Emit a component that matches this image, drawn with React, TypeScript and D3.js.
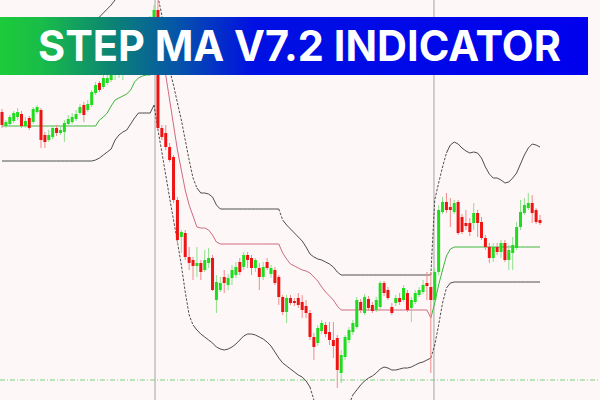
import React from "react";
import * as d3 from "d3";

const W = 600;
const H = 400;

// OHLC candles, one per bar
const opens = [
  288, 274, 276, 279, 283, 286, 274, 282, 278, 288,
  290, 265, 260, 263, 272, 267, 268, 276, 278, 281,
  287, 295, 290, 295, 307, 317, 313, 317, 320, 325,
  328, 330, 336, 338, 348, 355, 360, 360, 370, 383,
  390, 272, 267, 253, 243, 200, 163, 167, 143, 140,
  134, 137, 130, 137, 142, 100, 110, 123, 115, 122,
  125, 138, 133, 145, 142, 132, 132, 123, 138, 126,
  130, 123, 103, 88, 102, 99, 102, 98, 94, 87,
  63, 57, 69, 75, 68, 60, 62, 27, 43, 60,
  68, 73, 98, 87, 101, 95, 90, 93, 117, 110,
  93, 97, 102, 100, 107, 92, 98, 105, 108, 117,
  113, 100, 128, 188, 198, 193, 188, 198, 183, 177,
  177, 177, 187, 178, 162, 153, 142, 153, 148, 157,
  140, 147, 152, 173, 187, 192, 197, 190, 180,
];
const highs = [
  291, 280, 285, 289, 292, 289, 283, 284, 293, 295,
  292, 268, 270, 275, 275, 273, 280, 285, 287, 290,
  296, 298, 300, 310, 318, 319, 325, 326, 330, 334,
  340, 342, 345, 355, 360, 367, 370, 376, 384, 395,
  400, 275, 275, 257, 245, 203, 170, 170, 153, 143,
  153, 140, 150, 152, 145, 125, 123, 130, 126, 135,
  138, 142, 148, 148, 145, 142, 137, 138, 142, 135,
  133, 125, 105, 105, 105, 102, 107, 105, 100, 90,
  67, 75, 80, 78, 78, 78, 65, 50, 65, 73,
  80, 103, 101, 106, 104, 98, 103, 119, 119, 113,
  97, 105, 107, 115, 110, 103, 110, 113, 120, 128,
  128, 132, 195, 203, 207, 202, 200, 200, 186, 190,
  182, 197, 190, 183, 165, 157, 157, 157, 160, 160,
  155, 163, 178, 200, 202, 207, 205, 192, 185,
];
const lows = [
  272, 272, 274, 277, 280, 272, 272, 270, 276, 286,
  252, 252, 258, 261, 264, 265, 258, 274, 276, 279,
  285, 278, 288, 293, 305, 308, 311, 315, 318, 320,
  322, 320, 328, 334, 344, 350, 354, 356, 368, 382,
  270, 260, 250, 238, 197, 155, 147, 140, 130, 120,
  123, 120, 128, 132, 109, 87, 108, 107, 110, 115,
  122, 125, 130, 132, 125, 128, 110, 120, 130, 122,
  115, 95, 85, 77, 95, 94, 92, 82, 82, 60,
  40, 54, 66, 63, 55, 42, 12, 17, 40, 57,
  65, 71, 87, 85, 89, 87, 88, 91, 104, 100,
  85, 94, 95, 98, 88, 78, 96, 103, 106, 100,
  27, 98, 125, 186, 187, 173, 186, 165, 166, 170,
  164, 170, 163, 160, 150, 137, 138, 145, 142, 138,
  130, 130, 150, 170, 185, 190, 177, 176, 175,
];
const closes = [
  275, 278, 283, 287, 288, 274, 279, 272, 291, 293,
  260, 258, 265, 272, 267, 270, 277, 281, 283, 286,
  293, 285, 296, 308, 315, 310, 322, 322, 327, 330,
  336, 338, 334, 350, 356, 362, 358, 372, 380, 390,
  272, 263, 253, 240, 200, 160, 168, 143, 137, 134,
  137, 128, 140, 142, 110, 118, 117, 117, 122, 130,
  133, 128, 145, 140, 132, 140, 123, 133, 132, 132,
  117, 103, 88, 102, 97, 97, 95, 90, 87, 63,
  53, 72, 77, 66, 60, 54, 30, 45, 63, 70,
  77, 100, 90, 103, 92, 89, 100, 117, 107, 102,
  87, 102, 98, 112, 90, 100, 107, 110, 115, 114,
  100, 128, 190, 198, 190, 190, 197, 167, 168, 174,
  168, 187, 177, 162, 153, 142, 153, 148, 157, 140,
  150, 155, 173, 188, 195, 197, 187, 178, 177,
];

// Indicator buffers, one value per bar
const upperLine = [
  342, 342, 343, 344, 345, 345, 345, 346, 348, 350,
  350, 348, 347, 347, 348, 350, 352, 355, 358, 362,
  366, 370, 374, 378, 381, 383, 387, 391, 395, 400,
  405, 410, 415, 420, 426, 432, 438, 444, 450, 455,
  403, 385, 355, 330, 315, 297, 280, 260, 240, 222,
  212, 207, 207, 206, 203, 195, 191, 191, 191, 191,
  191, 191, 191, 191, 191, 191, 191, 191, 191, 191,
  191, 191, 180, 175, 171, 167, 163, 159, 153, 146,
  143, 141, 140, 138, 136, 133, 128, 125, 125, 125,
  125, 125, 125, 125, 125, 125, 125, 125, 125, 125,
  125, 125, 125, 125, 125, 125, 125, 125, 125, 125,
  125, 200, 217, 233, 247, 255, 258, 256, 252, 249,
  247, 248, 247, 242, 233, 226, 222, 222, 220, 217,
  218, 222, 227, 236, 245, 252, 256, 255, 253,
];
const midLine = [
  274, 274, 274, 274, 274, 274, 274, 274, 274, 274,
  274, 274, 274, 274, 274, 274, 274, 274, 274, 274,
  274, 274, 274, 274, 274, 280, 283, 287, 294, 300,
  302, 304, 306, 310, 318, 322, 324, 325, 325, 340,
  370, 348, 325, 300, 275, 250, 230, 210, 195, 184,
  173, 172, 172, 170, 165, 158, 156, 156, 156, 156,
  156, 156, 156, 156, 156, 156, 156, 156, 156, 156,
  156, 156, 147, 141, 136, 134, 132, 130, 129, 127,
  123, 119, 113, 108, 104, 100, 94, 90, 90, 90,
  90, 90, 90, 90, 90, 90, 90, 90, 90, 90,
  90, 90, 90, 90, 90, 90, 90, 90, 90, 90,
  82, 97, 115, 130, 144, 151, 153, 153, 153, 153,
  153, 153, 153, 153, 153, 153, 153, 153, 153, 153,
  153, 153, 153, 153, 153, 153, 153, 153, 153,
];
const lowerLine = [
  239, 239, 239, 239, 239, 239, 239, 239, 239, 239,
  239, 239, 239, 239, 239, 239, 239, 239, 239, 239,
  239, 239, 239, 239, 240, 242, 245, 248, 251, 260,
  265, 268, 270, 276, 282, 287, 287, 287, 287, 295,
  270, 248, 225, 202, 180, 158, 135, 108, 85, 75,
  70, 66, 63, 60, 57, 53, 51, 50, 51, 53,
  56, 60, 64, 66, 66, 65, 63, 61, 58, 54,
  48, 42, 37, 34, 31, 28, 25, 23, 19, 13,
  0, -10, -18, -24, -28, -30, -28, -22, -15, -5,
  5, 10, 15, 19, 22, 24, 27, 31, 33, 32,
  30, 30, 31, 32, 32, 33, 35, 37, 38, 40,
  42, 55, 75, 97, 112, 117, 118, 118, 118, 118,
  118, 118, 118, 118, 118, 118, 118, 118, 118, 118,
  118, 118, 118, 118, 118, 118, 118, 118, 118,
];

// Step MA trend phases (bar ranges)
const trendPhases = [
  { from: 0, to: 39, trend: "up" },
  { from: 40, to: 110, trend: "down" },
  { from: 110, to: 138, trend: "up" },
];

const separatorBars = [39.25, 110.8];
const levelValues = [20];
const title = "STEP MA V7.2 INDICATOR";

const COLORS = {
  bg: "#fdf8f7",
  bull: "#1fdc1f",
  bear: "#ee1414",
  bullWick: "#8ee08e",
  bearWick: "#f08a8a",
  maUp: "#3cb53c",
  maDown: "#cf6a80",
  band: "#3a3a3a",
  separator: "#a4a4a4",
  level: "#7dcf7d",
};

type Pt = [number, number];

export default function App() {
  const x = d3.scaleLinear().domain([0, closes.length - 1]).range([2, 540]);
  const y = d3.scaleLinear().domain([0, 400]).range([H, 0]);
  const line = d3
    .line<Pt>()
    .x((d) => x(d[0]))
    .y((d) => y(d[1]));

  // split a band into solid and dashed runs depending on steepness
  const runs = (values: number[]) => {
    const out: { dashed: boolean; pts: Pt[] }[] = [];
    for (let i = 0; i < values.length - 1; i++) {
      const slope = Math.abs(y(values[i + 1]) - y(values[i])) / (x(i + 1) - x(i));
      const dashed = slope > 2.5;
      const last = out[out.length - 1];
      if (last && last.dashed === dashed) last.pts.push([i + 1, values[i + 1]]);
      else out.push({ dashed, pts: [[i, values[i]], [i + 1, values[i + 1]]] });
    }
    return out;
  };

  const bandPaths = [upperLine, lowerLine].flatMap((vals) => runs(vals));

  const candleW = 3;

  return (
    <svg
      width={W}
      height={H}
      viewBox={`0 0 ${W} ${H}`}
      style={{ position: "absolute", left: 0, top: 0, display: "block" }}
    >
      <defs>
        <linearGradient id="bannerFill" gradientUnits="userSpaceOnUse" x1={0} y1={0} x2={588} y2={0}>
          <stop offset="0" stopColor="#1ccb3a" />
          <stop offset="0.07" stopColor="#19bd48" />
          <stop offset="0.2" stopColor="#0b7f78" />
          <stop offset="0.3" stopColor="#0655a8" />
          <stop offset="0.43" stopColor="#0010e2" />
          <stop offset="1" stopColor="#0000ee" />
        </linearGradient>
      </defs>
      <rect x={0} y={0} width={W} height={H} fill={COLORS.bg} />

      {levelValues.map((v) => (
        <line
          key={`lvl${v}`}
          x1={0}
          x2={W}
          y1={y(v)}
          y2={y(v)}
          stroke={COLORS.level}
          strokeWidth={1}
          strokeDasharray="5,2,1,2"
        />
      ))}

      {separatorBars.map((b) => (
        <line key={`sep${b}`} x1={x(b)} x2={x(b)} y1={0} y2={H} stroke={COLORS.separator} strokeWidth={1} />
      ))}

      {bandPaths.map((r, i) => (
        <path
          key={`band${i}`}
          d={line(r.pts) || ""}
          fill="none"
          stroke={COLORS.band}
          strokeWidth={0.9}
          strokeDasharray={r.dashed ? "2.5,1.5" : undefined}
        />
      ))}

      {trendPhases.map((p) => {
        const pts: Pt[] = d3.range(p.from, p.to + 1).map((i) => [i, midLine[i]]);
        return (
          <path
            key={`ma${p.from}`}
            d={line(pts) || ""}
            fill="none"
            stroke={p.trend === "up" ? COLORS.maUp : COLORS.maDown}
            strokeWidth={1}
          />
        );
      })}

      {closes.map((c, i) => {
        const o = opens[i];
        const bull = c >= o;
        const top = y(Math.max(o, c));
        const bottom = y(Math.min(o, c));
        return (
          <g key={`c${i}`}>
            <line
              x1={x(i)}
              x2={x(i)}
              y1={y(highs[i])}
              y2={y(lows[i])}
              stroke={bull ? COLORS.bullWick : COLORS.bearWick}
              strokeWidth={1}
            />
            <rect
              x={x(i) - candleW / 2}
              y={top}
              width={candleW}
              height={Math.max(1, bottom - top)}
              fill={bull ? COLORS.bull : COLORS.bear}
            />
          </g>
        );
      })}

      <rect x={0} y={17} width={588} height={58} fill="url(#bannerFill)" />
      <text
        x={38}
        y={61}
        fill="#ffffff"
        fontFamily="Inter, 'Open Sans', sans-serif"
        fontWeight={700}
        fontSize={42}
        textLength={523}
        lengthAdjust="spacingAndGlyphs"
      >
        {title}
      </text>
    </svg>
  );
}
